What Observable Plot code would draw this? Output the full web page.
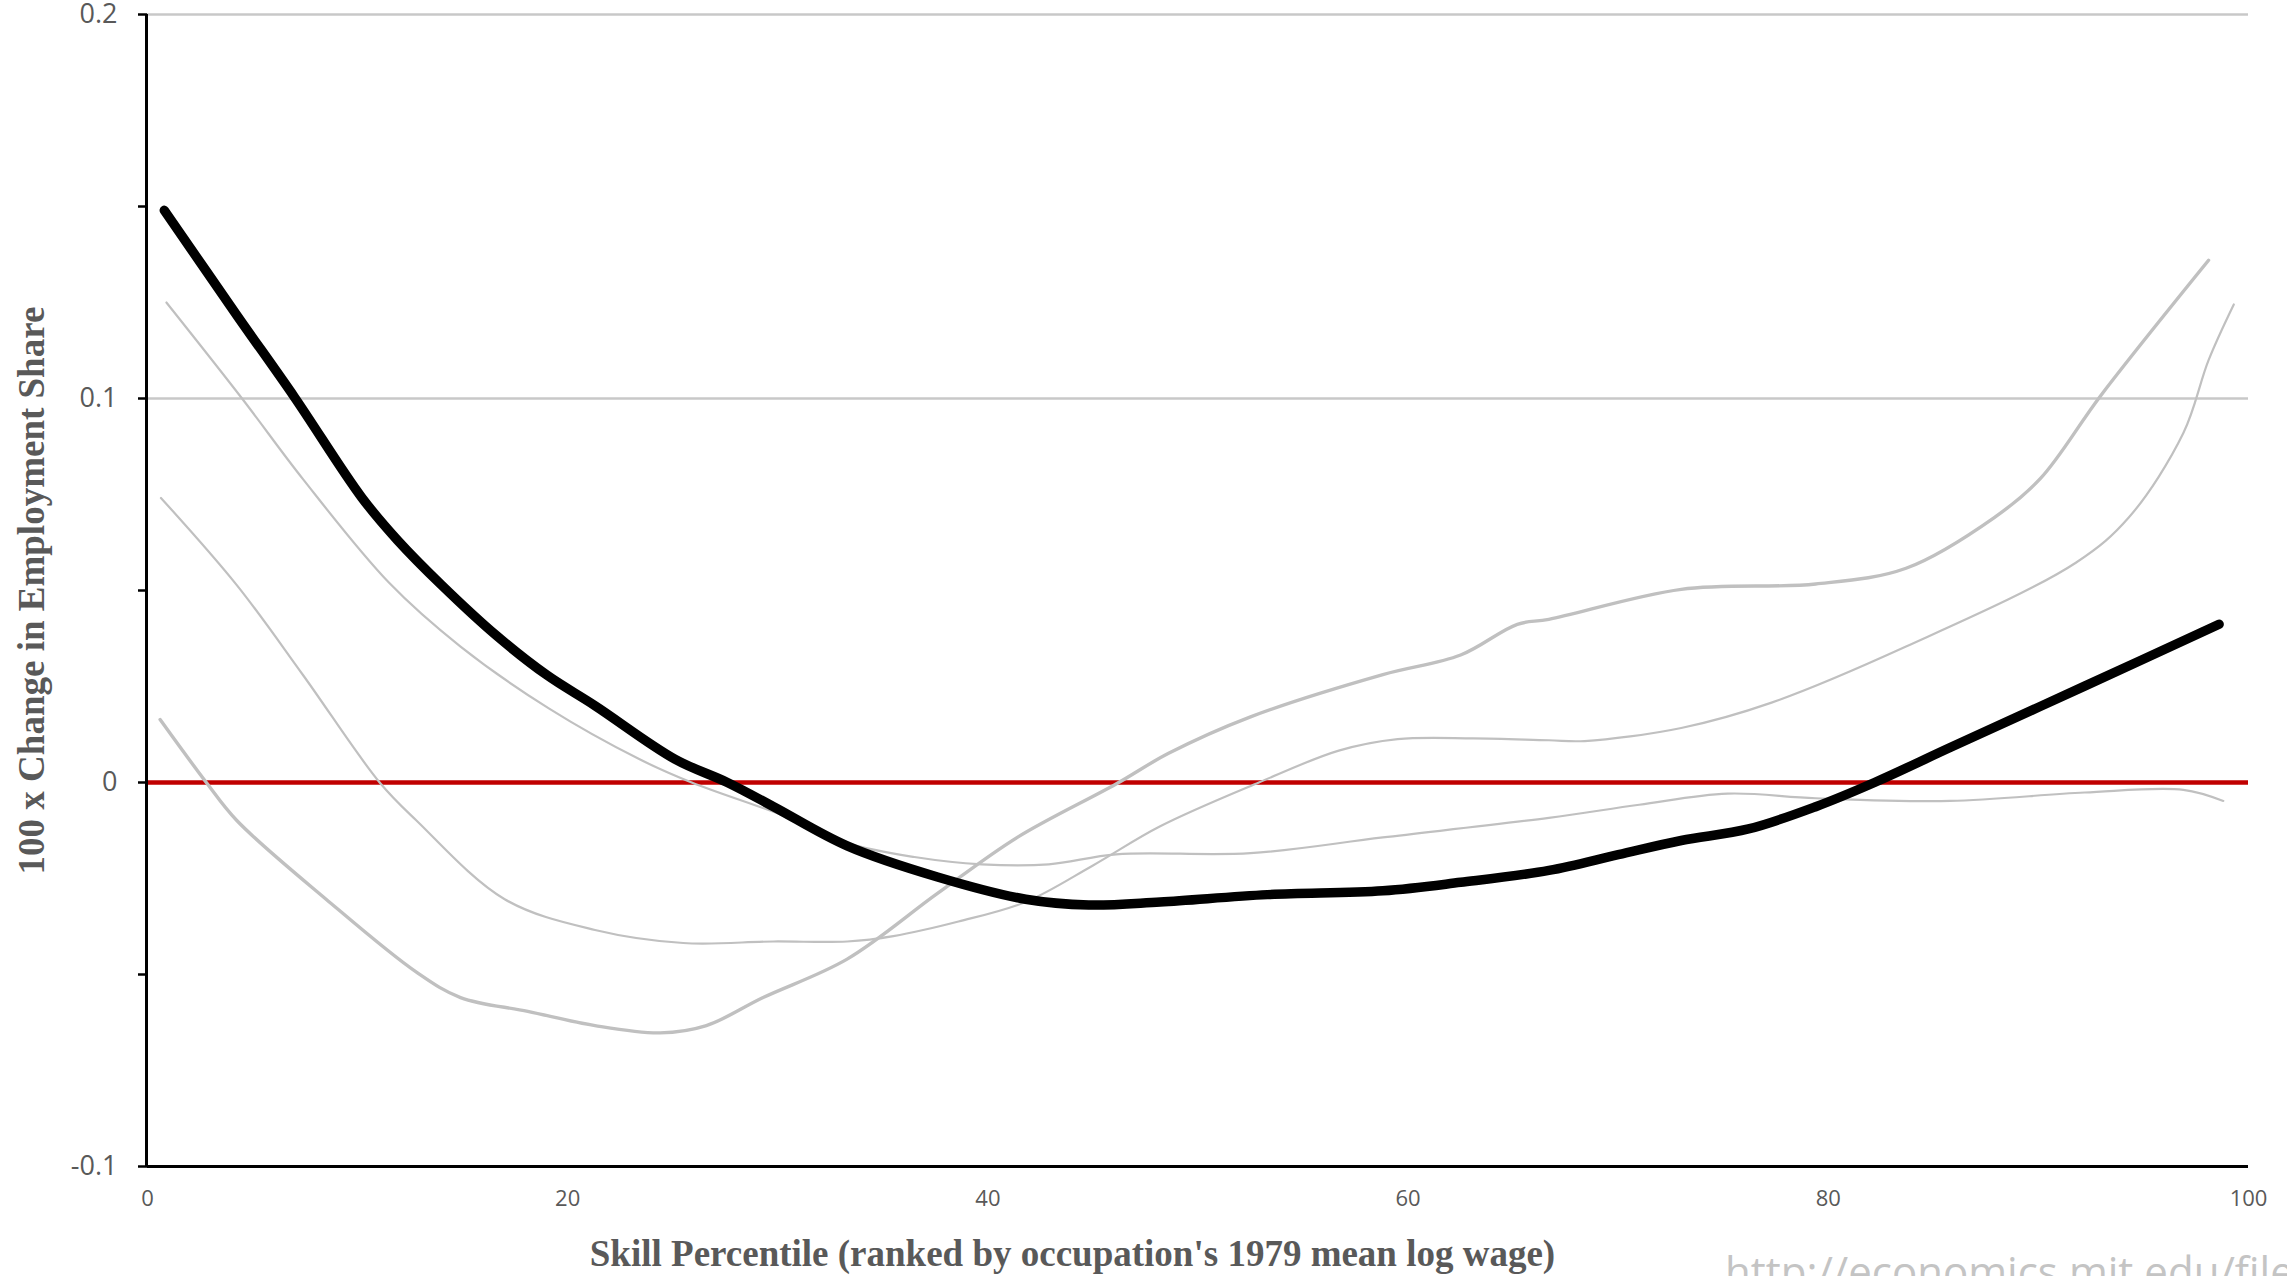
<!DOCTYPE html>
<html>
<head>
<meta charset="utf-8">
<script src="https://cdn.jsdelivr.net/npm/d3@7"></script>
<script src="https://cdn.jsdelivr.net/npm/@observablehq/plot@0.6"></script>
<style>
  html, body { margin: 0; padding: 0; background: white; }
  #page { position: relative; width: 2287px; height: 1276px; overflow: hidden; background: white; }
  #url { position: absolute; left: 1725px; top: 1250px; font-family: "Open Sans", sans-serif; font-size: 42px; line-height: 1; color: #c4c4c4; white-space: nowrap; }
</style>
</head>
<body>
<div id="page"><div id="url">http://economics.mit.edu/files/</div></div>
<script>
// ---- data ----
const mainX = [0.8, 4.25, 7.0, 10.2, 11.9, 14.0, 16.6, 19.0, 21.3, 25.1, 27.6, 29.8, 33.3, 37.6, 41.8, 44.8, 48.2, 53.3, 58.8, 62.5, 66.7, 70.0, 73.0, 76.2, 79.4, 82.2, 85.8, 92.2, 98.6];
const mainY = [0.149, 0.1217, 0.1003, 0.0742, 0.0631, 0.0514, 0.0383, 0.028, 0.020, 0.0061, 0.0, -0.0063, -0.0165, -0.0246, -0.0304, -0.0319, -0.0311, -0.0292, -0.0282, -0.026, -0.0229, -0.0188, -0.0151, -0.0121, -0.0063, 0.0, 0.0091, 0.0251, 0.0412];

const grayAX = [0.9, 4.5, 7.4, 11.5, 14.9, 19.1, 23.4, 25.9, 30.2, 33.3, 36.5, 39.7, 42.9, 46.1, 52.5, 58.8, 66.7, 71.0, 75.2, 79.4, 85.8, 92.2, 96.9, 98.8];
const grayAY = [0.125, 0.100, 0.079, 0.052, 0.0354, 0.0193, 0.0061, 0.0, -0.0085, -0.0158, -0.0194, -0.0213, -0.0213, -0.0187, -0.0184, -0.0143, -0.0092, -0.0058, -0.0029, -0.0041, -0.0048, -0.0026, -0.0019, -0.0048];

const grayBX = [0.64, 4.25, 7.4, 11.05, 12.8, 17.0, 21.3, 25.5, 29.8, 33.3, 35.5, 38.6, 41.8, 45.0, 48.2, 52.9, 56.7, 59.5, 63.1, 66.7, 68.4, 73.0, 77.3, 83.7, 91.8, 94.3, 96.9, 98.1, 99.3];
const grayBY = [0.0741, 0.0514, 0.028, 0.0, -0.0099, -0.0304, -0.0384, -0.0418, -0.0414, -0.0414, -0.040, -0.0362, -0.0311, -0.0216, -0.0114, 0.0, 0.0083, 0.0113, 0.0115, 0.011, 0.0108, 0.0142, 0.0208, 0.0354, 0.0573, 0.069, 0.091, 0.11, 0.1245];

const grayCX = [0.6, 2.8, 4.25, 8.5, 12.8, 14.9, 18.1, 21.3, 24.4, 26.6, 29.3, 33.3, 37.6, 41.4, 46.1, 48.6, 52.5, 58.8, 62.5, 65.2, 66.7, 73.0, 79.4, 83.7, 87.9, 90.1, 93.0, 98.1];
const grayCY = [0.0164, 0.0, -0.0099, -0.0304, -0.0494, -0.056, -0.0596, -0.0633, -0.0652, -0.0633, -0.056, -0.046, -0.0289, -0.0143, -0.0004, 0.0076, 0.0171, 0.0281, 0.0332, 0.0412, 0.0425, 0.0503, 0.0517, 0.0558, 0.069, 0.0792, 0.101, 0.136];

const xTicks = [0, 20, 40, 60, 80, 100];
const yTicks = [-0.1, 0, 0.1, 0.2];
const yTickLabels = ["-0.1", "0", "0.1", "0.2"];
const yMinorTicks = [-0.1, -0.05, 0, 0.05, 0.1, 0.15, 0.2];
const gridValues = [0.1, 0.2];
const zeroLine = [0];
const xTitle = "Skill Percentile (ranked by occupation's 1979 mean log wage)";
const yTitle = "100 x Change in Employment Share";

const toRows = (xs, ys) => xs.map((x, i) => ({x, y: ys[i]}));
const mainRows = toRows(mainX, mainY);
const aRows = toRows(grayAX, grayAY);
const bRows = toRows(grayBX, grayBY);
const cRows = toRows(grayCX, grayCY);

const gray = "#c0c0c0";
const textGray = "#595959";

const chart = Plot.plot({
  width: 2287,
  height: 1276,
  marginLeft: 147,
  marginRight: 39,
  marginTop: 14,
  marginBottom: 110,
  style: {fontFamily: "Open Sans, sans-serif", background: "white", color: textGray, overflow: "visible"},
  x: {domain: [0, 100]},
  y: {domain: [-0.1, 0.2]},
  marks: [
    Plot.ruleY(gridValues, {stroke: "#c8c8c8", strokeWidth: 2.5}),
    Plot.ruleY(zeroLine, {stroke: "#c00000", strokeWidth: 4.5}),
    Plot.line(aRows, {x: "x", y: "y", stroke: gray, strokeWidth: 2.2, curve: "catmull-rom"}),
    Plot.line(bRows, {x: "x", y: "y", stroke: gray, strokeWidth: 2.2, curve: "catmull-rom"}),
    Plot.line(cRows, {x: "x", y: "y", stroke: gray, strokeWidth: 3.4, curve: "catmull-rom"}),
    Plot.line(mainRows, {x: "x", y: "y", stroke: "black", strokeWidth: 9.5, curve: "catmull-rom"}),
    Plot.ruleX([0], {stroke: "black", strokeWidth: 3, dx: -1}),
    Plot.ruleY([-0.1], {stroke: "black", strokeWidth: 3}),
    Plot.axisY({ticks: yMinorTicks, tickSize: 9, tickFormat: () => "", stroke: "black", strokeWidth: 2.5, label: null}),
    Plot.axisY({ticks: yTicks, tickSize: 0, tickPadding: 30, tickFormat: d => yTickLabels[yTicks.findIndex(t => Math.abs(t - d) < 1e-9)], fontSize: 27, fill: textGray, label: null}),
    Plot.axisX({ticks: xTicks, tickSize: 0, tickPadding: 24, fontSize: 22, fill: textGray, label: null}),
    Plot.text([yTitle], {text: d => d, frameAnchor: "left", textAnchor: "middle", rotate: -90, dx: -115, fontFamily: "Liberation Serif, serif", fontWeight: "bold", fontSize: 37, fill: textGray}),
    Plot.text([xTitle], {text: d => d, frameAnchor: "bottom", textAnchor: "middle", dx: -125.5, dy: 99, fontFamily: "Liberation Serif, serif", fontWeight: "bold", fontSize: 37, fill: textGray})
  ]
});
chart.style.position = "absolute";
chart.style.left = "0px";
chart.style.top = "0px";
document.getElementById("page").prepend(chart);
</script>
</body>
</html>
